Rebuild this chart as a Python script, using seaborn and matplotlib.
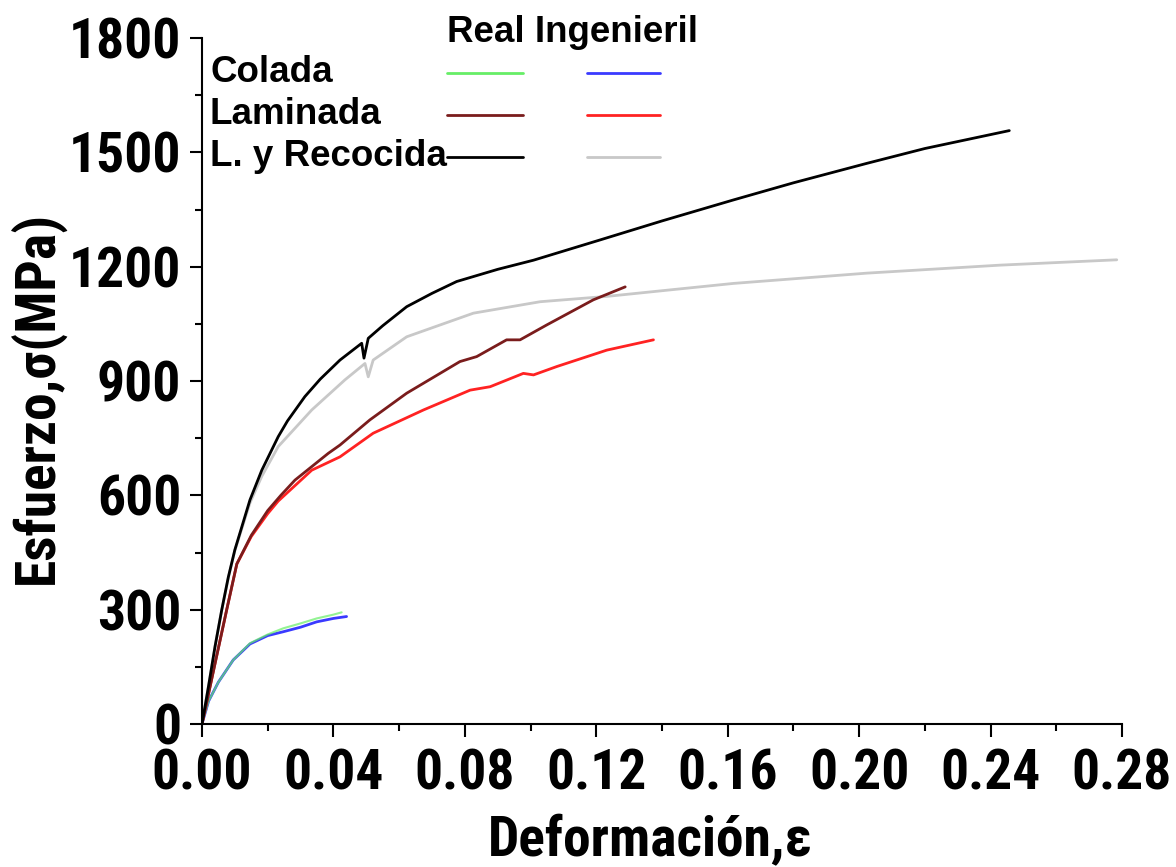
import matplotlib
matplotlib.use("Agg")
import matplotlib.pyplot as plt
from matplotlib import font_manager
from matplotlib.font_manager import FontProperties
from matplotlib.lines import Line2D
from matplotlib.ticker import MultipleLocator, FormatStrFormatter
import seaborn as sns

# --- data (strain, stress MPa) ---
colada_real_eps = [0, 0.002, 0.005, 0.0095, 0.0146, 0.020, 0.0247, 0.030, 0.0349, 0.040, 0.0425]
colada_real_sig = [0, 60, 110, 168, 212, 235, 251, 264, 277, 287, 293]
colada_ing_eps = [0, 0.002, 0.005, 0.0095, 0.0146, 0.020, 0.0247, 0.030, 0.0349, 0.040, 0.044]
colada_ing_sig = [0, 60, 110, 168, 210, 232, 242, 254, 268, 277, 282]

lam_real_eps = [0, 0.004, 0.0075, 0.0106, 0.015, 0.020, 0.024, 0.0283, 0.0384, 0.042, 0.0511,
                0.0623, 0.0785, 0.0836, 0.0927, 0.0968, 0.1049, 0.1191, 0.1288]
lam_real_sig = [0, 160, 299, 420, 495, 560, 600, 640, 710, 732, 798,
                868, 951, 964, 1008, 1008, 1047, 1113, 1147]
lam_ing_eps = [0, 0.004, 0.0075, 0.0106, 0.015, 0.020, 0.0232, 0.0334, 0.042, 0.0521, 0.0674,
               0.0816, 0.0877, 0.0978, 0.1009, 0.108, 0.1232, 0.1374]
lam_ing_sig = [0, 160, 299, 420, 492, 552, 585, 666, 701, 763, 824,
               876, 885, 920, 916, 938, 981, 1008]

rec_real_eps = [0, 0.002, 0.004, 0.006, 0.008, 0.010, 0.0146, 0.0182, 0.0232, 0.026, 0.0313, 0.036,
                0.042, 0.045, 0.0486, 0.0493, 0.0506, 0.055, 0.0623, 0.070, 0.0775, 0.090, 0.1009,
                0.1211, 0.140, 0.1617, 0.180, 0.2023, 0.220, 0.2457]
rec_real_sig = [0, 100, 205, 299, 385, 457, 588, 666, 754, 795, 859, 905,
                955, 975, 999, 960, 1012, 1045, 1095, 1130, 1161, 1193, 1217,
                1270, 1320, 1375, 1420, 1471, 1510, 1557]
rec_ing_eps = [0, 0.002, 0.004, 0.006, 0.008, 0.010, 0.0146, 0.0182, 0.0232, 0.0334, 0.0435,
               0.0496, 0.0506, 0.0521, 0.0623, 0.0826, 0.1029, 0.1232, 0.1424, 0.1617, 0.2023,
               0.2429, 0.2784]
rec_ing_sig = [0, 100, 205, 299, 383, 455, 580, 650, 728, 824, 903,
               946, 911, 955, 1016, 1078, 1108, 1122, 1139, 1156, 1183,
               1204, 1218]

row_labels = ["Colada", "Laminada", "L. y Recocida"]
col_labels = "Real Ingenieril"
real_colors = ["#66ee66", "#7a1c1c", "#000000"]
ing_colors = ["#3a3aff", "#ff2222", "#c8c8c8"]

W, H = 1176, 867

sns.set_style("ticks")
for k in ["text.color", "axes.labelcolor", "xtick.color", "ytick.color", "axes.edgecolor"]:
    plt.rcParams[k] = "black"
plt.rcParams["font.family"] = ["Liberation Sans", "DejaVu Sans"]


def is_bold(w):
    if isinstance(w, str):
        return w in ("bold", "heavy", "black", "extra bold", "demibold", "semibold")
    return w >= 600


# look for a narrow bold face for the numbers (reference uses a condensed font)
narrow = None
rank = ["Liberation Sans Narrow", "Roboto Condensed", "Open Sans Condensed", "DejaVu Sans"]
found = {}
for f in font_manager.fontManager.ttflist:
    cond = ("Narrow" in f.name or "Condensed" in f.name
            or f.stretch in ("condensed", "semi-condensed", "extra-condensed", "ultra-condensed")
            or (isinstance(f.stretch, int) and f.stretch < 500))
    if cond and is_bold(f.weight) and f.style == "normal":
        found.setdefault(f.name, f.fname)
for nm in rank:
    if nm in found:
        narrow = found[nm]
        break
if narrow is None and found:
    narrow = list(found.values())[0]

if narrow:
    num_fp = FontProperties(fname=narrow, size=40)
    lab_fp = FontProperties(fname=narrow, size=40)
else:
    num_fp = FontProperties(family=["Liberation Sans"], weight="bold", size=32)
    lab_fp = FontProperties(family=["Liberation Sans"], weight="bold", size=32)

fig = plt.figure(figsize=(W / 100, H / 100), dpi=100)
ax = fig.add_axes([202 / W, 1 - 724 / H, (1122 - 202) / W, (724 - 38) / H])


def fx(px):
    return px / W


def fy(py):
    return 1 - py / H


series = [
    (colada_ing_eps, colada_ing_sig, ing_colors[0], 2.0, 1.0),
    (colada_real_eps, colada_real_sig, real_colors[0], 1.5, 0.7),
    (rec_ing_eps, rec_ing_sig, ing_colors[2], 2.0, 1.0),
    (lam_ing_eps, lam_ing_sig, ing_colors[1], 2.0, 1.0),
    (lam_real_eps, lam_real_sig, real_colors[1], 2.0, 1.0),
    (rec_real_eps, rec_real_sig, real_colors[2], 2.0, 1.0),
]
for xs, ys, c, lw, a in series:
    sns.lineplot(x=xs, y=ys, color=c, linewidth=lw, alpha=a, ax=ax,
                 estimator=None, sort=False)

ax.set_xlim(0, 0.28)
ax.set_ylim(0, 1800)
ax.xaxis.set_major_locator(MultipleLocator(0.04))
ax.xaxis.set_minor_locator(MultipleLocator(0.02))
ax.yaxis.set_major_locator(MultipleLocator(300))
ax.yaxis.set_minor_locator(MultipleLocator(150))
ax.xaxis.set_major_formatter(FormatStrFormatter("%.2f"))
sns.despine(ax=ax)
for s in ["left", "bottom"]:
    ax.spines[s].set_linewidth(1.5)
ax.tick_params(which="major", length=9, width=1.5, pad=6)
ax.tick_params(axis="x", which="major", pad=9)
ax.tick_params(which="minor", length=5, width=1.5)
fig.canvas.draw()
for lab in ax.get_xticklabels() + ax.get_yticklabels():
    lab.set_fontproperties(num_fp)

ax.set_xlabel("Deformación,ε", fontproperties=lab_fp)
ax.set_ylabel("Esfuerzo,σ(MPa)", fontproperties=lab_fp)
ax.xaxis.set_label_coords((650 - 202) / 920, (724 - 815) / 686)
ax.yaxis.set_label_coords((66 - 202) / 920, (724 - 397) / 686)

# hand-made legend: rows x (Real, Ingenieril)
leg_font = ["Liberation Sans", "DejaVu Sans"]
fig.text(fx(447), fy(32), col_labels, fontsize=26.5, fontweight="bold",
         family=leg_font, va="center", ha="left")
row_y = [73, 115, 157]
for lab, yy, rc, ic in zip(row_labels, row_y, real_colors, ing_colors):
    fig.text(fx(210), fy(yy - 1), lab, fontsize=26.5, fontweight="bold",
             family=leg_font, va="center", ha="left")
    fig.add_artist(Line2D([fx(447), fx(523)], [fy(yy), fy(yy)], color=rc, lw=2))
    fig.add_artist(Line2D([fx(587), fx(660)], [fy(yy), fy(yy)], color=ic, lw=2))

fig.savefig("out.png", dpi=100)
